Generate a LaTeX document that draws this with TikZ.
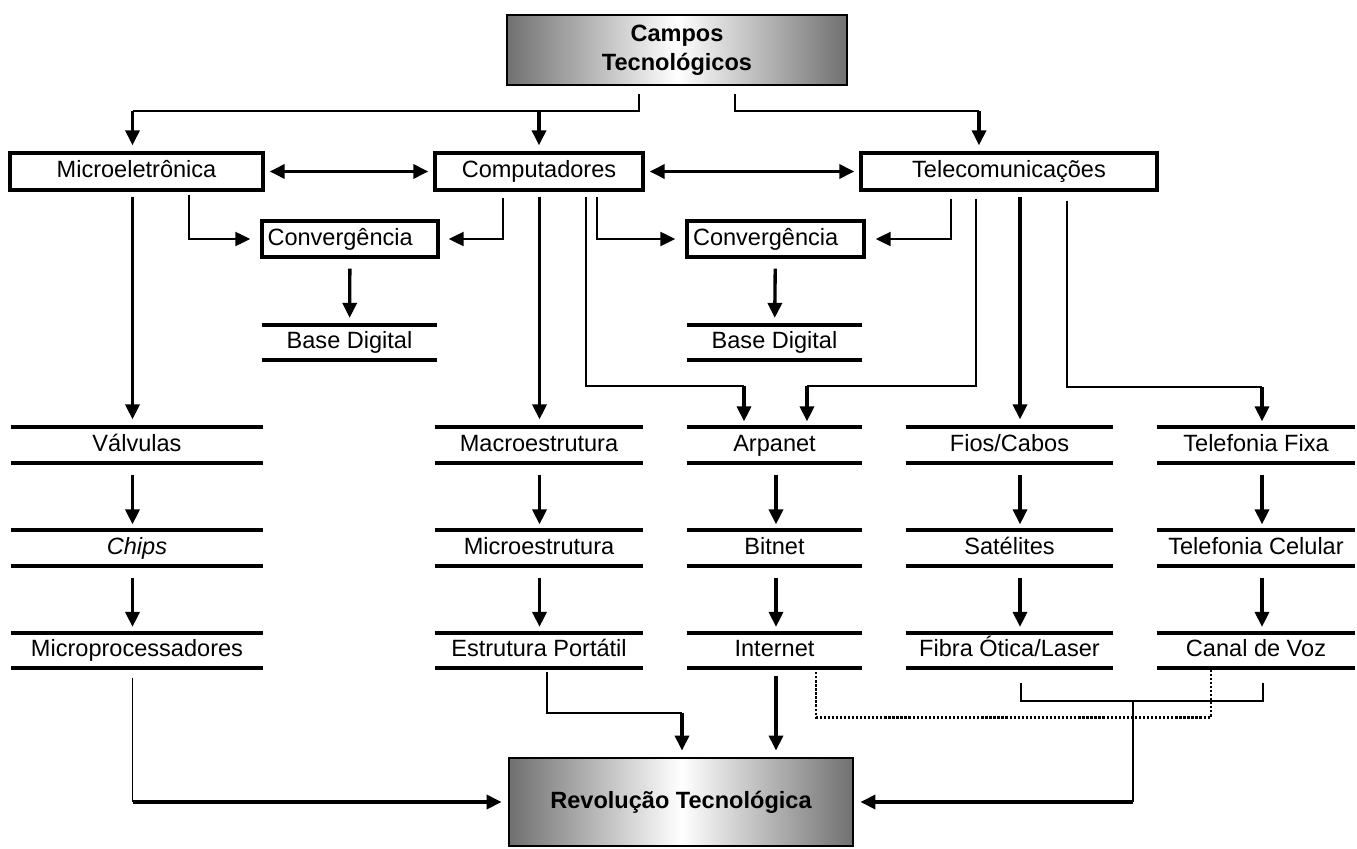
\documentclass[tikz,border=0pt]{standalone}
\usepackage{fontspec}
\setmainfont{Liberation Sans}
\usetikzlibrary{arrows.meta}
\definecolor{shadegray}{RGB}{112,112,112}

\begin{document}
\begin{tikzpicture}[x=1cm, y=1cm,
    every node/.style={font=\fontsize{13.4}{16}\selectfont},
    fieldbox/.style={draw, line width=1.9pt, minimum height=0.74cm, inner sep=0.08cm,
      text height=9.8pt, text depth=2.8pt},
    headbox/.style={draw, line width=1.6pt, left color=shadegray, right color=shadegray, middle color=white,
      font=\fontsize{13.4}{16.4}\selectfont\bfseries, align=center},
    stage/.style={minimum height=0.69cm, inner sep=0pt, text height=9.8pt, text depth=2.8pt},
    barrule/.style={line width=2.3pt},
    wire/.style={line width=0.9pt},
    flow/.style={line width=1.9pt, -{Triangle[width=0.28cm, length=0.3cm]}, shorten >=0.12cm},
    mutual/.style={line width=1.9pt, {Triangle[width=0.28cm, length=0.3cm]}-{Triangle[width=0.28cm, length=0.3cm]},
      shorten <=0.1cm, shorten >=0.1cm},
    dotline/.style={line width=1.6pt, dash pattern=on 1.3pt off 1pt}]
  % A stage between two thick rules: #1 = name, #2 = x of centre, #3 = width, #4 = y of centre, #5 = text.
  \newcommand{\stagerow}[5]{%
    \node[stage, minimum width=#3cm] (#1) at (#2,#4) {#5};
    \draw[barrule] (#1.north west) -- (#1.north east);
    \draw[barrule] (#1.south west) -- (#1.south east);}

  \useasboundingbox (0,0) rectangle (27.14,-16.98);
  % x of the arrows in each column
  \coordinate (c1) at (2.65,0);
  \coordinate (c2) at (10.79,0);
  \coordinate (c3) at (15.52,0);
  \coordinate (c4) at (20.40,0);
  \coordinate (c5) at (25.24,0);

  % the three fields
  \node[headbox, minimum width=6.8cm, minimum height=1.4cm] (campos) at (13.54,-1.00) {Campos\\Tecnológicos};
  \node[fieldbox, minimum width=5.06cm] (micro) at (2.73,-3.43) {Microeletrônica};
  \node[fieldbox, minimum width=4.16cm] (comp) at (10.78,-3.43) {Computadores};
  \node[fieldbox, minimum width=5.92cm] (tele) at (20.18,-3.43) {Telecomunicações};
  \node[fieldbox, minimum width=3.52cm, minimum height=0.72cm, text width=3.3cm, align=left] (conv1) at (7.00,-4.78) {Convergência};
  \node[fieldbox, minimum width=3.54cm, minimum height=0.72cm, text width=3.3cm, align=left] (conv2) at (15.51,-4.78) {Convergência};
  \stagerow{base1}{6.99}{3.50}{-6.85}{Base Digital}
  \stagerow{base2}{15.49}{3.50}{-6.85}{Base Digital}

  % the five columns
  \stagerow{valv}{2.74}{5.04}{-8.90}{Válvulas}
  \stagerow{chips}{2.74}{5.04}{-10.96}{\textit{Chips}}
  \stagerow{mproc}{2.74}{5.04}{-13.01}{Microprocessadores}
  \stagerow{macro}{10.78}{4.16}{-8.90}{Macroestrutura}
  \stagerow{microe}{10.78}{4.16}{-10.96}{Microestrutura}
  \stagerow{estr}{10.78}{4.16}{-13.01}{Estrutura Portátil}
  \stagerow{arpa}{15.49}{3.50}{-8.90}{Arpanet}
  \stagerow{bit}{15.49}{3.50}{-10.96}{Bitnet}
  \stagerow{inet}{15.49}{3.50}{-13.01}{Internet}
  \stagerow{fios}{20.19}{4.14}{-8.90}{Fios/Cabos}
  \stagerow{sat}{20.19}{4.14}{-10.96}{Satélites}
  \stagerow{fibra}{20.19}{4.14}{-13.01}{Fibra Ótica/Laser}
  \stagerow{fixa}{25.12}{3.96}{-8.90}{Telefonia Fixa}
  \stagerow{cel}{25.12}{3.96}{-10.96}{Telefonia Celular}
  \stagerow{voz}{25.12}{3.96}{-13.01}{Canal de Voz}

  \node[headbox, minimum width=6.88cm, minimum height=1.76cm] (revol) at (13.62,-16.04) {Revolução Tecnológica};

  % from the head box down to the fields
  \coordinate (lbus) at (2.65,-2.22);
  \coordinate (rbus) at (19.58,-2.22);
  \draw[wire] ([xshift=-0.76cm, yshift=-0.16cm]campos.south) |- (lbus);
  \draw[wire] ([xshift=1.16cm, yshift=-0.16cm]campos.south) |- (rbus);
  \draw[flow] (lbus) -- (lbus |- micro.north);
  \draw[flow] (lbus -| comp) -- (comp.north);
  \draw[flow] (rbus) -- (rbus |- tele.north);
  \draw[mutual] (micro) -- (comp);
  \draw[mutual] (comp) -- (tele);

  % convergence
  \draw[flow, line width=1.2pt, shorten >=0.2cm] ([xshift=1.05cm, yshift=-0.06cm]micro.south) |- (conv1.west);
  \draw[flow, line width=1.2pt, shorten >=0.18cm] ([xshift=-0.72cm, yshift=-0.12cm]comp.south) |- (conv1.east);
  \draw[flow, line width=1.2pt, shorten >=0.2cm] ([xshift=1.16cm, yshift=-0.1cm]comp.south) |- (conv2.west);
  \draw[flow, line width=1.2pt, shorten >=0.2cm] ([xshift=-1.16cm, yshift=-0.14cm]tele.south) |- (conv2.east);
  \draw[flow, shorten <=0.2cm, shorten >=0.14cm] (conv1) -- (base1);
  \draw[flow, shorten <=0.2cm, shorten >=0.14cm] (conv2) -- (base2);

  % fields into the columns
  \draw[flow, shorten <=0.1cm, shorten >=0.16cm] (micro.south -| c1) -- (valv.north -| c1);
  \draw[flow, shorten <=0.1cm, shorten >=0.16cm] (comp.south -| c2) -- (macro.north -| c2);
  \draw[flow, shorten <=0.1cm, shorten >=0.16cm] (tele.south -| c4) -- (fios.north -| c4);
  \coordinate (arpl) at (14.88,-7.72);
  \coordinate (arpr) at (16.14,-7.72);
  \coordinate (fixc) at (25.24,-7.74);
  \draw[wire] ([xshift=0.94cm, yshift=-0.1cm]comp.south) |- (arpl);
  \draw[wire] ([xshift=-0.66cm, yshift=-0.14cm]tele.south) |- (arpr);
  \draw[wire] ([xshift=1.16cm, yshift=-0.18cm]tele.south) |- (fixc);
  \draw[flow] (arpl) -- (arpl |- arpa.north);
  \draw[flow] (arpr) -- (arpr |- arpa.north);
  \draw[flow] (fixc) -- (fixc |- fixa.north);

  % steps inside the columns
  \foreach \from/\to/\col in {valv/chips/c1, chips/mproc/c1, macro/microe/c2, microe/estr/c2,
      arpa/bit/c3, bit/inet/c3, fios/sat/c4, sat/fibra/c4, fixa/cel/c5, cel/voz/c5}
    \draw[flow, shorten <=0.24cm] (\from.south -| \col) -- (\to.north -| \col);

  % into the revolution
  \coordinate (lcorner) at (c1 |- revol.west);
  \draw[wire, shorten <=0.2cm] (mproc.south -| c1) -- (lcorner);
  \draw[flow] (lcorner) -- (revol.west);
  \coordinate (ecorner) at (13.64,-14.26);
  \draw[wire, shorten <=0.08cm] ([xshift=0.16cm]estr.south) |- (ecorner);
  \draw[flow] (ecorner) -- (ecorner |- revol.north);
  \draw[flow, shorten <=0.16cm] (inet.south -| c3) -- (revol.north -| c3);
  \draw[dotline] ([xshift=0.83cm]inet.south) -- ++(0,-0.98) -| ([xshift=-0.90cm]voz.south);
  \draw[wire] ([xshift=0.23cm, yshift=-0.30cm]fibra.south) -- ++(0,-0.36) -| ([xshift=0.14cm, yshift=-0.30cm]voz.south);
  \coordinate (rjoin) at (22.66,-14.02);
  \coordinate (rcorner) at (rjoin |- revol.east);
  \draw[wire] (rjoin) -- (rcorner);
  \draw[flow] (rcorner) -- (revol.east);
\end{tikzpicture}
\end{document}
